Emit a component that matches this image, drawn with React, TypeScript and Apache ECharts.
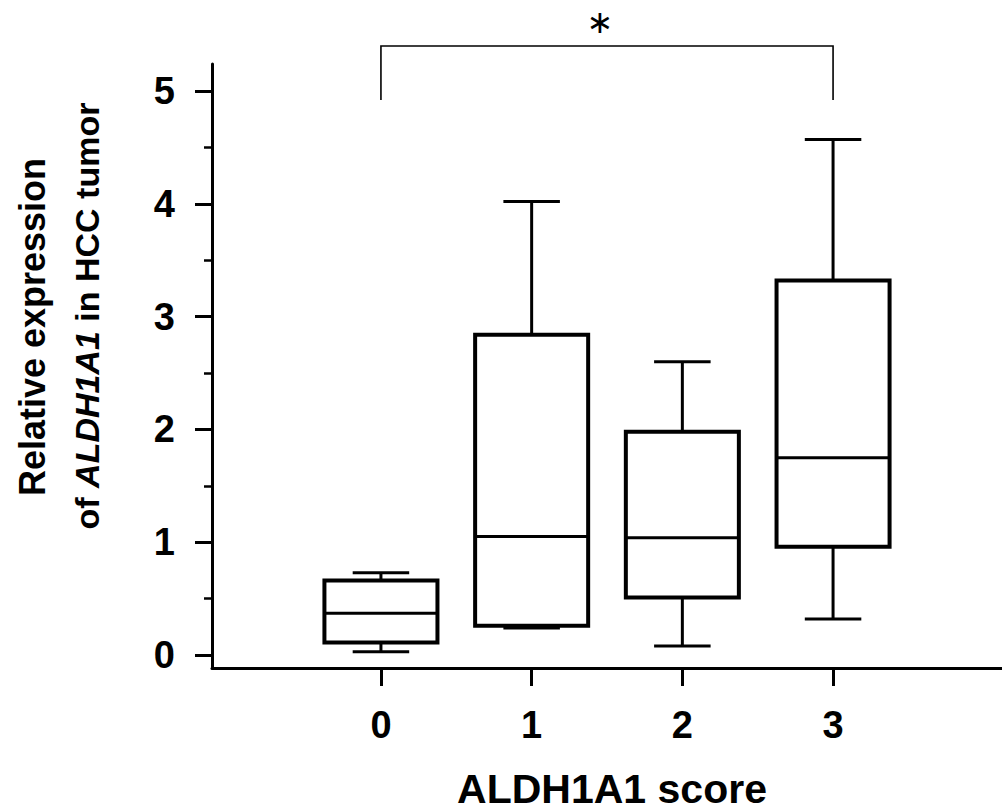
import React, { useEffect, useRef } from "react";
import * as echarts from "echarts";

// ---- data ----
const scores = [0, 1, 2, 3];
const scoreLabels = ["0", "1", "2", "3"];
const lowWhisker = [0.03, 0.24, 0.08, 0.32];
const q1 = [0.11, 0.26, 0.51, 0.96];
const median = [0.37, 1.05, 1.04, 1.75];
const q3 = [0.66, 2.84, 1.98, 3.32];
const highWhisker = [0.73, 4.02, 2.6, 4.57];
const yMajorTicks = [0, 1, 2, 3, 4, 5];
const yMinorTicks = [0.5, 1.5, 2.5, 3.5, 4.5];
const sigPair = [0, 3];
const sigLabel = "\u2217";

const FONT = "Arial, 'Liberation Sans', Helvetica, sans-serif";
const BOX_WIDTH = 0.75; // in x-axis units
const CAP_WIDTH = 0.375;

export default function App() {
  const ref = useRef<HTMLDivElement>(null);

  useEffect(() => {
    const chart = echarts.init(ref.current!, null, { renderer: "svg" });
    const boxData = scores.map((s, i) => [
      s,
      lowWhisker[i],
      q1[i],
      median[i],
      q3[i],
      highWhisker[i],
    ]);
    const Y_MIN = -0.115;
    const Y_MAX = 5.24;

    const renderBox = (params: any, api: any) => {
      const x = api.value(0);
      const pLow = api.coord([x, api.value(1)]);
      const pQ1 = api.coord([x, api.value(2)]);
      const pMed = api.coord([x, api.value(3)]);
      const pQ3 = api.coord([x, api.value(4)]);
      const pHigh = api.coord([x, api.value(5)]);
      const bw = api.size([BOX_WIDTH, 0])[0];
      const cw = api.size([CAP_WIDTH, 0])[0];
      const cx = pQ1[0];
      const stroke = "#000";
      return {
        type: "group",
        children: [
          {
            type: "line",
            shape: { x1: cx, y1: pHigh[1], x2: cx, y2: pQ3[1] },
            style: { stroke, lineWidth: 3 },
          },
          {
            type: "line",
            shape: { x1: cx, y1: pLow[1], x2: cx, y2: pQ1[1] },
            style: { stroke, lineWidth: 3 },
          },
          {
            type: "line",
            shape: { x1: cx - cw / 2, y1: pHigh[1], x2: cx + cw / 2, y2: pHigh[1] },
            style: { stroke, lineWidth: 3 },
          },
          {
            type: "line",
            shape: { x1: cx - cw / 2, y1: pLow[1], x2: cx + cw / 2, y2: pLow[1] },
            style: { stroke, lineWidth: 3 },
          },
          {
            type: "rect",
            shape: { x: cx - bw / 2, y: pQ3[1], width: bw, height: pQ1[1] - pQ3[1] },
            style: { fill: "#fff", stroke, lineWidth: 4 },
          },
          {
            type: "line",
            shape: { x1: cx - bw / 2, y1: pMed[1], x2: cx + bw / 2, y2: pMed[1] },
            style: { stroke, lineWidth: 3 },
          },
        ],
      };
    };

    chart.setOption({
      animation: false,
      backgroundColor: "#ffffff",
      grid: { left: 212, right: 0, top: 64, bottom: 143, containLabel: false },
      xAxis: {
        type: "value",
        min: -1.121,
        max: 4.121,
        splitLine: { show: false },
        axisLine: { show: true, onZero: false, lineStyle: { color: "#000", width: 3 } },
        axisTick: {
          show: true,
          customValues: scores,
          length: 18,
          lineStyle: { color: "#000", width: 3 },
        },
        axisLabel: {
          show: true,
          customValues: scores,
          formatter: (v: number) => scoreLabels[scores.indexOf(v)] ?? "",
          margin: 38,
          fontSize: 38,
          fontWeight: "bold",
          fontFamily: FONT,
          color: "#000",
        },
      },
      yAxis: [
        {
          type: "value",
          min: Y_MIN,
          max: Y_MAX,
          position: "left",
          splitLine: { show: false },
          axisLine: { show: true, onZero: false, lineStyle: { color: "#000", width: 3 } },
          axisTick: {
            show: true,
            customValues: yMajorTicks,
            length: 17,
            lineStyle: { color: "#000", width: 3 },
          },
          axisLabel: {
            show: true,
            customValues: yMajorTicks,
            margin: 37,
            fontSize: 38,
            fontWeight: "bold",
            fontFamily: FONT,
            color: "#000",
          },
        },
        {
          type: "value",
          min: Y_MIN,
          max: Y_MAX,
          position: "left",
          offset: 0,
          splitLine: { show: false },
          axisLine: { show: false, onZero: false },
          axisTick: {
            show: true,
            customValues: yMinorTicks,
            length: 8,
            lineStyle: { color: "#000", width: 2.5 },
          },
          axisLabel: { show: false },
        },
      ],
      series: [
        {
          type: "custom",
          xAxisIndex: 0,
          yAxisIndex: 0,
          renderItem: renderBox,
          encode: { x: 0, y: [1, 2, 3, 4, 5] },
          data: boxData,
          clip: false,
          silent: true,
        },
      ],
    });

    const bracketTop = 5.4;
    const bracketDrop = 4.92;
    const pA = chart.convertToPixel({ gridIndex: 0 }, [sigPair[0], bracketTop]) as number[];
    const pB = chart.convertToPixel({ gridIndex: 0 }, [sigPair[1], bracketTop]) as number[];
    const pD = chart.convertToPixel({ gridIndex: 0 }, [sigPair[0], bracketDrop]) as number[];
    const midX = (pA[0] + pB[0]) / 2 - 7;

    chart.setOption({
      graphic: [
        {
          type: "polyline",
          shape: {
            points: [
              [pA[0], pD[1]],
              [pA[0], pA[1]],
              [pB[0], pB[1]],
              [pB[0], pD[1]],
            ],
          },
          style: { stroke: "#000", lineWidth: 1.6, fill: null },
          silent: true,
        },
        {
          type: "text",
          x: midX,
          y: 22,
          style: {
            text: sigLabel,
            fontSize: 32,
            fontFamily: "'DejaVu Sans', sans-serif",
            fill: "#000",
            align: "center",
            verticalAlign: "middle",
          },
          silent: true,
        },
        {
          type: "text",
          x: 32,
          y: 327,
          rotation: Math.PI / 2,
          style: {
            text: "Relative expression",
            fontSize: 36,
            fontWeight: "bold",
            fontFamily: FONT,
            fill: "#000",
            align: "center",
            verticalAlign: "middle",
          },
          silent: true,
        },
        {
          type: "text",
          x: 87,
          y: 316,
          rotation: Math.PI / 2,
          style: {
            text: "{n|of }{i|ALDH1A1}{n| in HCC tumor}",
            align: "center",
            verticalAlign: "middle",
            rich: {
              n: { fontSize: 34, fontWeight: "bold", fontFamily: FONT, fill: "#000" },
              i: {
                fontSize: 34,
                fontWeight: "bold",
                fontStyle: "italic",
                fontFamily: FONT,
                fill: "#000",
              },
            },
          },
          silent: true,
        },
        {
          type: "text",
          x: 612,
          y: 789,
          style: {
            text: "ALDH1A1 score",
            fontSize: 41,
            fontWeight: "bold",
            fontFamily: FONT,
            fill: "#000",
            align: "center",
            verticalAlign: "middle",
          },
          silent: true,
        },
      ],
    });

    return () => chart.dispose();
  }, []);

  return (
    <div
      ref={ref}
      style={{ position: "fixed", left: 0, top: 0, width: 1002, height: 811, background: "#fff" }}
    />
  );
}
